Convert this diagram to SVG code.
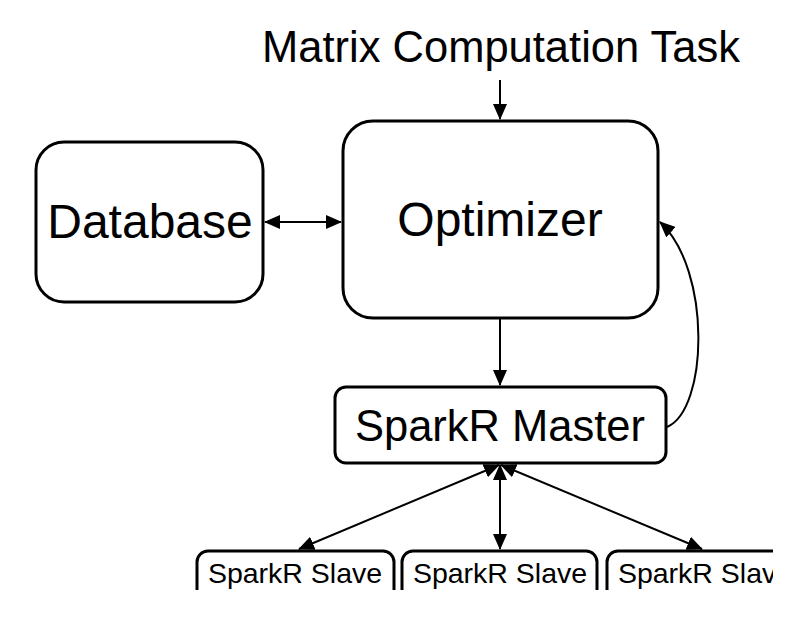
<svg xmlns="http://www.w3.org/2000/svg" width="804" height="622" viewBox="0 0 804 622">
<style>
.box{fill:#fff;stroke:#000;stroke-width:3}
.lbl{font-family:"Liberation Sans",Arial,sans-serif;fill:#000;text-anchor:middle}
.con{fill:none;stroke:#000;stroke-width:2}
</style>
<defs>
<marker id="ah" markerUnits="userSpaceOnUse" markerWidth="16" markerHeight="14" viewBox="0 0 16 14" refX="15" refY="7" orient="auto-start-reverse">
<path d="M0,0 L16,7 L0,14 z" fill="#000"/>
</marker>
<clipPath id="clip"><rect x="0" y="0" width="773" height="590"/></clipPath>
</defs>
<rect width="804" height="622" fill="#fff"/>
<text class="lbl" x="501" y="62" font-size="43.5">Matrix Computation Task</text>
<g id="database">
<rect class="box" x="36" y="142" width="227" height="160" rx="28"/>
<text class="lbl" x="150" y="238" font-size="48">Database</text>
</g>
<g id="optimizer">
<rect class="box" x="343" y="121" width="315" height="197" rx="30"/>
<text class="lbl" x="500" y="236" font-size="48">Optimizer</text>
</g>
<g id="master">
<rect class="box" x="335" y="387" width="331" height="76" rx="11"/>
<text class="lbl" x="500" y="441" font-size="43.5">SparkR Master</text>
</g>
<g clip-path="url(#clip)">
<g id="slave1">
<rect class="box" x="197" y="551" width="197" height="60" rx="11"/>
<text class="lbl" x="295" y="583" font-size="28.5">SparkR Slave</text>
</g>
<g id="slave2">
<rect class="box" x="402" y="551" width="195" height="60" rx="11"/>
<text class="lbl" x="500" y="583" font-size="28.5">SparkR Slave</text>
</g>
<g id="slave3">
<rect class="box" x="607" y="551" width="197" height="60" rx="11"/>
<text class="lbl" x="705" y="583" font-size="28.5">SparkR Slave</text>
</g>
</g>
<g id="connectors">
<path class="con" d="M500,80 L500,119" marker-end="url(#ah)"/>
<path class="con" d="M265,222 L341,222" marker-start="url(#ah)" marker-end="url(#ah)"/>
<path class="con" d="M500,319 L500,385" marker-end="url(#ah)"/>
<path class="con" d="M667,427 C708,410 712,270 660,222" marker-end="url(#ah)"/>
<path class="con" d="M499,465 L299,549" marker-start="url(#ah)" marker-end="url(#ah)"/>
<path class="con" d="M500,465 L500,549" marker-start="url(#ah)" marker-end="url(#ah)"/>
<path class="con" d="M501,465 L702,549" marker-start="url(#ah)" marker-end="url(#ah)"/>
</g>
</svg>
